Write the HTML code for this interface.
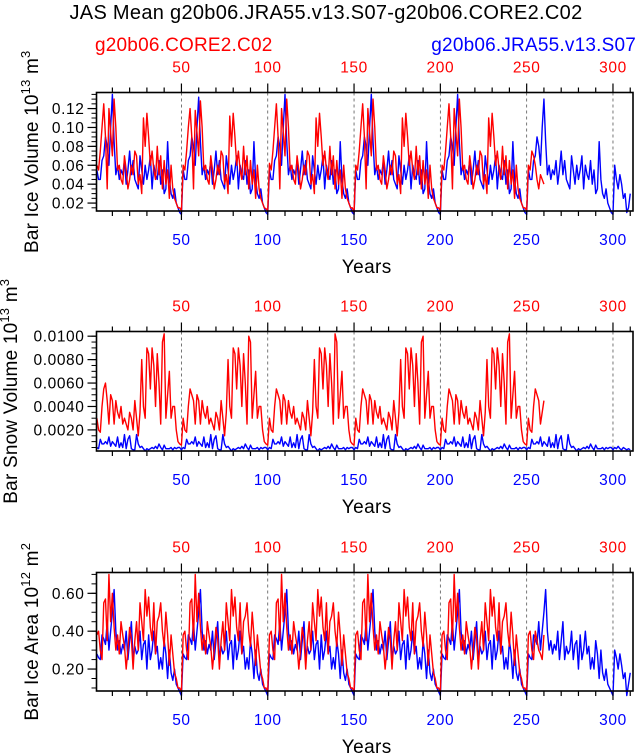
<!DOCTYPE html>
<html><head><meta charset="utf-8"><style>
html,body{margin:0;padding:0;background:#fff;width:637px;height:753px;overflow:hidden}
svg{display:block;font-family:"Liberation Sans",Arial,sans-serif}
</style></head><body>
<svg id="c" width="637" height="753" viewBox="0 0 637 753">
<text x="326" y="19" text-anchor="middle" font-size="20" letter-spacing="0.3">JAS Mean g20b06.JRA55.v13.S07-g20b06.CORE2.C02</text>
<text x="95" y="51" font-size="19" fill="#f00" letter-spacing="0.2">g20b06.CORE2.C02</text>
<text x="636" y="51" text-anchor="end" font-size="19" fill="#00f" letter-spacing="0.2">g20b06.JRA55.v13.S07</text>
</svg>
<script>
// ---- data ----
const xTicks = [50,100,150,200,250,300];
const iceVolTicks = ["0.02","0.04","0.06","0.08","0.10","0.12"];
const snowTicks = ["0.0020","0.0040","0.0060","0.0080","0.0100"];
const areaTicks = ["0.20","0.40","0.60"];
// ice volume, units of 0.001 (x10^13 m^3)
const iceRed = [60,55,75,100,125,90,35,120,95,70,130,100,55,60,45,40,70,55,35,45,60,50,75,70,40,50,30,110,80,115,90,60,75,55,45,80,50,70,35,65,40,55,25,60,35,25,20,15,15,12,
60,55,75,100,120,90,35,118,95,70,128,100,55,60,45,40,70,55,35,45,60,50,75,70,40,50,30,112,80,115,90,60,75,55,45,80,50,70,35,65,40,55,25,60,35,25,20,15,14,12,
62,55,75,100,125,90,35,120,95,70,130,100,55,60,45,40,70,55,35,45,60,50,75,70,40,50,30,110,80,115,90,60,75,55,45,80,50,70,35,65,40,55,25,60,35,25,20,15,15,10,
60,55,75,100,125,90,35,120,95,70,130,100,55,60,45,40,70,55,35,45,60,50,75,70,40,50,30,110,80,115,90,60,75,55,45,80,50,70,35,65,40,55,25,60,35,25,20,15,15,12,
60,55,75,100,125,90,35,120,95,70,130,100,55,60,45,40,70,55,35,45,60,50,75,70,40,50,30,110,80,115,90,60,75,55,45,80,50,70,35,65,40,55,25,60,35,25,20,15,15,12,
60,55,75,70,60,45,35,50,45,40];
const iceBlue = [55,45,45,65,70,90,80,60,100,135,85,50,60,45,55,50,65,40,55,75,50,65,45,40,35,70,55,40,60,45,55,70,35,60,50,45,65,40,55,30,35,85,45,30,25,35,20,15,10,8,
55,45,45,65,70,90,80,60,100,132,85,50,60,45,55,50,65,40,55,75,50,65,45,40,35,70,55,40,60,45,55,70,35,60,50,45,65,40,55,30,35,85,45,30,25,35,20,15,10,8,
55,45,45,65,70,90,80,60,100,135,85,50,60,45,55,50,65,40,55,75,50,65,45,40,35,70,55,40,60,45,55,70,35,60,50,45,65,40,55,30,35,85,45,30,25,35,20,15,10,8,
55,45,45,65,70,90,80,60,100,135,85,50,60,45,55,50,65,40,55,75,50,65,45,40,35,70,55,40,60,45,55,70,35,60,50,45,65,40,55,30,35,85,45,30,25,35,20,15,10,8,
55,45,45,65,70,90,80,60,100,135,85,50,60,45,55,50,65,40,55,75,50,65,45,40,35,70,55,40,60,45,55,70,35,60,50,45,65,40,55,30,35,85,45,30,25,35,20,15,10,8,
55,45,45,65,70,90,80,60,100,130,85,50,60,45,55,50,65,40,55,75,50,65,45,40,35,70,55,40,60,45,55,70,35,60,50,45,65,40,55,30,35,85,45,30,25,35,20,15,10,8,
60,45,35,50,40,25,30,10,15,30];
// snow volume, units of 0.0001
const snowRed = [30,20,18,40,55,60,45,25,50,45,25,45,35,30,40,25,30,25,20,35,30,20,45,30,15,35,80,40,30,90,85,55,90,75,40,85,60,25,95,102,30,50,70,30,40,40,20,10,8,7,
30,20,18,40,55,50,45,25,50,45,25,45,35,30,40,25,30,25,20,35,30,20,45,30,15,35,80,40,30,90,85,55,90,75,40,85,60,25,100,95,30,50,70,30,40,40,20,10,8,7,
30,20,18,40,55,50,45,25,50,45,25,45,35,30,40,25,30,25,20,35,30,20,45,30,15,35,80,40,30,90,85,55,90,75,40,85,60,25,102,95,30,50,70,30,40,40,20,10,8,7,
30,20,18,40,55,50,45,25,50,45,25,45,35,30,40,25,30,25,20,35,30,20,45,30,15,35,80,40,30,90,85,55,90,75,40,85,60,25,95,100,30,50,70,30,40,40,20,10,8,7,
30,20,18,40,55,50,45,25,50,45,25,45,35,30,40,25,30,25,20,35,30,20,45,30,15,35,80,40,30,90,85,55,90,75,40,85,60,25,95,102,30,50,70,30,40,40,20,10,8,7,
30,20,18,40,55,50,45,25,35,45];
const snowBlue = [5,4,12,8,8,10,8,14,6,10,8,6,14,5,9,5,16,4,12,15,4,3,3,16,8,5,6,4,2,4,3,4,5,4,6,4,8,5,3,7,4,4,4,5,3,5,4,5,5,3,
5,4,12,8,8,10,8,14,6,10,8,6,14,5,9,5,16,4,12,15,4,3,3,16,8,5,6,4,2,4,3,4,5,4,6,4,8,5,3,7,4,4,4,5,3,5,4,5,5,3,
5,4,12,8,8,10,8,14,6,10,8,6,14,5,9,5,16,4,12,15,4,3,3,16,8,5,6,4,2,4,3,4,5,4,6,4,8,5,3,7,4,4,4,5,3,5,4,5,5,3,
5,4,12,8,8,10,8,14,6,10,8,6,14,5,9,5,16,4,12,15,4,3,3,16,8,5,6,4,2,4,3,4,5,4,6,4,8,5,3,7,4,4,4,5,3,5,4,5,5,3,
5,4,12,8,8,10,8,14,6,10,8,6,14,5,9,5,16,4,12,15,4,3,3,16,8,5,6,4,2,4,3,4,5,4,6,4,8,5,3,7,4,4,4,5,3,5,4,5,5,3,
5,4,12,8,8,10,8,14,6,10,8,6,14,5,9,5,16,4,12,15,4,3,3,16,8,5,6,4,2,4,3,4,5,4,6,4,8,5,3,7,4,4,4,5,3,5,4,5,5,3,
5,4,6,4,3,5,4,3,4,3];
// ice area, units of 0.01
const areaRed = [38,40,30,25,55,57,35,70,45,60,42,30,38,28,45,38,32,20,30,42,36,20,35,45,30,55,45,35,62,48,58,42,35,55,28,45,48,55,40,32,50,38,22,38,28,18,15,10,10,8,
38,40,30,25,55,57,35,70,45,60,42,30,38,28,45,38,32,20,30,42,36,20,35,45,30,55,45,35,62,48,58,42,35,55,28,45,48,55,40,32,50,38,22,38,28,18,15,10,10,8,
38,40,30,25,55,57,35,70,45,60,42,30,38,28,45,38,32,20,30,42,36,20,35,45,30,55,45,35,62,48,58,42,35,55,28,45,48,55,40,32,50,38,22,38,28,18,15,10,10,8,
38,40,30,25,55,57,35,70,45,60,42,30,38,28,45,38,32,20,30,42,36,20,35,45,30,55,45,35,62,48,58,42,35,55,28,45,48,55,40,32,50,38,22,38,28,18,15,10,10,8,
38,40,30,25,55,57,35,70,45,60,42,30,38,28,45,38,32,20,30,42,36,20,35,45,30,55,45,35,62,48,58,42,35,55,28,45,48,55,40,32,50,38,22,38,28,18,15,10,10,8,
38,40,30,25,40,35,30,28,25,38];
const areaBlue = [28,26,25,38,36,33,45,30,40,50,62,40,30,35,28,33,30,40,25,35,45,25,32,28,30,40,25,33,35,20,38,25,30,40,28,32,20,26,20,35,28,15,30,18,14,20,12,10,8,6,
28,26,25,38,36,33,45,30,40,50,62,40,30,35,28,33,30,40,25,35,45,25,32,28,30,40,25,33,35,20,38,25,30,40,28,32,20,26,20,35,28,15,30,18,14,20,12,10,8,6,
28,26,25,38,36,33,45,30,40,50,62,40,30,35,28,33,30,40,25,35,45,25,32,28,30,40,25,33,35,20,38,25,30,40,28,32,20,26,20,35,28,15,30,18,14,20,12,10,8,6,
28,26,25,38,36,33,45,30,40,50,62,40,30,35,28,33,30,40,25,35,45,25,32,28,30,40,25,33,35,20,38,25,30,40,28,32,20,26,20,35,28,15,30,18,14,20,12,10,8,6,
28,26,25,38,36,33,45,30,40,50,62,40,30,35,28,33,30,40,25,35,45,25,32,28,30,40,25,33,35,20,38,25,30,40,28,32,20,26,20,35,28,15,30,18,14,20,12,10,8,6,
28,26,25,38,36,33,45,30,40,50,62,40,30,35,28,33,30,40,25,35,45,25,32,28,30,40,25,33,35,20,38,25,30,40,28,32,20,26,20,35,28,15,30,18,14,20,12,10,8,6,
30,26,20,28,22,15,18,6,12,18];

const NS="http://www.w3.org/2000/svg";
const svg=document.getElementById('c');
function mk(tag,attrs,parent){const e=document.createElementNS(NS,tag);for(const k in attrs)e.setAttribute(k,attrs[k]);(parent||svg).appendChild(e);return e;}
const X0=96.5,X1=633,YR0=0.8,YR1=311.6;
function xs(yr){return X0+(yr-YR0)/(YR1-YR0)*(X1-X0);}
const TF=15.5, TLS=0.6;

function panel(cfg){
  const g=mk('g',{});
  
  
  const ys=v=>cfg.bot-(v*cfg.unit-cfg.ymin)/(cfg.ymax-cfg.ymin)*(cfg.bot-cfg.top);
  xTicks.forEach(t=>{const l=mk('line',{x1:xs(t),x2:xs(t),y1:cfg.top,y2:cfg.bot,stroke:'#555','stroke-width':0.8,'stroke-dasharray':'3,3'},g);
    });
  [[cfg.blue,'#00f','blue-series'],[cfg.red,'#f00','red-series']].forEach(([arr,col,nm])=>{
    const p=mk('polyline',{fill:'none',stroke:col,'stroke-width':1.4,'stroke-linejoin':'round',points:arr.map((v,i)=>xs(i+1).toFixed(2)+','+ys(v).toFixed(2)).join(' ')},g);
    
  });
  const f=mk('rect',{x:X0,y:cfg.top,width:X1-X0,height:cfg.bot-cfg.top,fill:'none',stroke:'#000','stroke-width':1.6},g);
  
  for(let t=10;t<=310;t+=10){const maj=t%50===0,len=maj?9:5;
    mk('line',{x1:xs(t),x2:xs(t),y1:cfg.top,y2:cfg.top-len,stroke:'#000','stroke-width':1.2},g);
    mk('line',{x1:xs(t),x2:xs(t),y1:cfg.bot,y2:cfg.bot+len,stroke:'#000','stroke-width':1.2},g);}
  xTicks.forEach(t=>{
    const a=mk('text',{x:xs(t),y:cfg.top-20,'text-anchor':'middle','font-size':TF,'letter-spacing':TLS,fill:'#f00'},g);a.textContent=t;
    
    const b=mk('text',{x:xs(t),y:cfg.bot+34,'text-anchor':'middle','font-size':TF,'letter-spacing':TLS,fill:'#00f'},g);b.textContent=t;
    
  });
  for(let v=cfg.ymin0;v<=cfg.ymax+1e-9;v+=cfg.minor){const yy=cfg.bot-(v-cfg.ymin)/(cfg.ymax-cfg.ymin)*(cfg.bot-cfg.top);
    if(yy<cfg.top-0.5||yy>cfg.bot+0.5)continue;mk('line',{x1:X0,x2:X0-5,y1:yy,y2:yy,stroke:'#000','stroke-width':1},g);}
  cfg.ticks.forEach(s=>{const v=parseFloat(s);const yy=cfg.bot-(v-cfg.ymin)/(cfg.ymax-cfg.ymin)*(cfg.bot-cfg.top);
    mk('line',{x1:X0,x2:X0-9,y1:yy,y2:yy,stroke:'#000','stroke-width':1.2},g);
    const t=mk('text',{x:X0-12,y:yy+5.5,'text-anchor':'end','font-size':TF,'letter-spacing':TLS},g);t.textContent=s;
    });
  const xt=mk('text',{x:(X0+X1)/2+2,y:cfg.bot+62,'text-anchor':'middle','font-size':19,'letter-spacing':0.4},g);xt.textContent='Years';
  
  const cy=(cfg.top+cfg.bot)/2;
  const yt=mk('text',{x:0,y:0,'text-anchor':'middle','font-size':19,'letter-spacing':0.2,transform:`translate(${cfg.ytx},${cy}) rotate(-90)`},g);
  yt.innerHTML=cfg.ytitle;
  
}
panel({name:'ice-volume-panel',top:92.5,bot:211,ymin:0.0116,ymax:0.137,ymin0:0.015,minor:0.005,unit:0.001,ticks:iceVolTicks,red:iceRed,blue:iceBlue,ytx:38,
  ytitle:'Bar Ice Volume 10<tspan dy="-8" font-size="13">13</tspan><tspan dy="8"> m</tspan><tspan dy="-8" font-size="13">3</tspan>'});
panel({name:'snow-volume-panel',top:331.5,bot:451,ymin:0.0002,ymax:0.0104,ymin0:0.0005,minor:0.0005,unit:0.0001,ticks:snowTicks,red:snowRed,blue:snowBlue,ytx:17,
  ytitle:'Bar Snow Volume 10<tspan dy="-8" font-size="13">13</tspan><tspan dy="8"> m</tspan><tspan dy="-8" font-size="13">3</tspan>'});
panel({name:'ice-area-panel',top:572.5,bot:691,ymin:0.084,ymax:0.71,ymin0:0.1,minor:0.05,unit:0.01,ticks:areaTicks,red:areaRed,blue:areaBlue,ytx:38,
  ytitle:'Bar Ice Area 10<tspan dy="-8" font-size="13">12</tspan><tspan dy="8"> m</tspan><tspan dy="-8" font-size="13">2</tspan>'});
</script>
</body></html>
